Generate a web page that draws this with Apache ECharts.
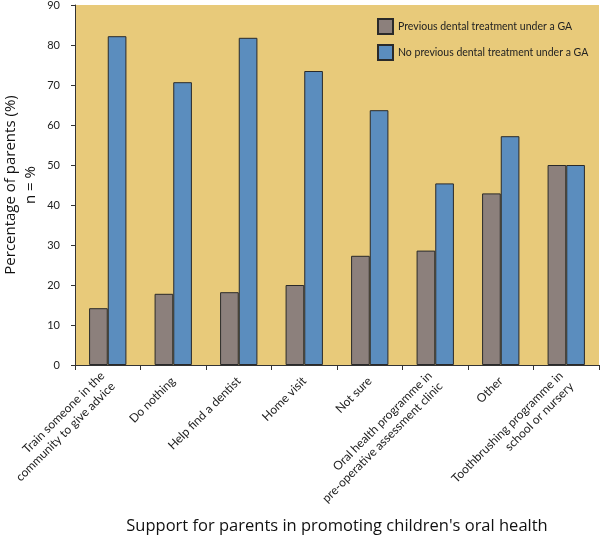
<!DOCTYPE html>
<html>
<head>
<meta charset="utf-8">
<script src="https://cdn.jsdelivr.net/npm/echarts@6/dist/echarts.min.js"></script>
<style>
html,body{margin:0;padding:0;background:#fff;}
#main{width:600px;height:536px;}
</style>
</head>
<body>
<div id="main"></div>
<script>
const categories = [
  "Train someone in the\ncommunity to give advice",
  "Do nothing",
  "Help find a dentist",
  "Home visit",
  "Not sure",
  "Oral health programme in\npre-operative assessment clinic",
  "Other",
  "Toothbrushing programme in\nschool or nursery"
];
const seriesNames = ["Previous dental treatment under a GA", "No previous dental treatment under a GA"];
const previousGA = [14.2, 17.8, 18.2, 20.0, 27.3, 28.6, 42.9, 50.0];
const noPreviousGA = [82.2, 70.7, 81.8, 73.5, 63.7, 45.4, 57.2, 50.0];
const yTicks = { min: 0, max: 90, interval: 10 };

const FONT = 'Lato';
const TITLE_FONT = '"Open Sans"';
const chart = echarts.init(document.getElementById('main'), null, { renderer: 'canvas' });
chart.setOption({
  animation: false,
  backgroundColor: '#ffffff',
  textStyle: { fontFamily: FONT, color: '#222' },
  grid: {
    left: 75, right: 1, top: 5, bottom: 171,
    containLabel: false, outerBoundsMode: 'none',
    show: true, backgroundColor: '#E8CA7A', borderWidth: 0
  },
  legend: {
    orient: 'vertical', left: 377, top: 18, padding: 0,
    icon: 'rect',
    itemWidth: 15, itemHeight: 15, itemGap: 9,
    textStyle: { fontFamily: FONT, fontSize: 10.5, color: '#222' },
    data: seriesNames
  },
  xAxis: {
    type: 'category',
    data: categories,
    axisLine: { lineStyle: { color: '#333', width: 1 } },
    axisTick: { show: true, length: 5, lineStyle: { color: '#333' } },
    axisLabel: {
      interval: 0, rotate: 45, fontSize: 12, lineHeight: 15,
      color: '#222', margin: 14, fontFamily: FONT
    },
    name: "Support for parents in promoting children's oral health",
    nameLocation: 'middle', nameGap: 153, nameMoveOverlap: false,
    nameTextStyle: { fontSize: 16.5, color: '#111', fontFamily: TITLE_FONT }
  },
  yAxis: {
    type: 'value',
    min: yTicks.min, max: yTicks.max, interval: yTicks.interval,
    splitLine: { show: false },
    axisLine: { show: true, lineStyle: { color: '#333', width: 1 } },
    axisTick: { show: true, length: 4, lineStyle: { color: '#333' } },
    axisLabel: { fontSize: 11, color: '#222', margin: 15, fontFamily: FONT },
    name: 'Percentage of parents (%)\nn = %',
    nameLocation: 'middle', nameGap: 34, nameRotate: 90, nameMoveOverlap: false,
    nameTextStyle: { fontSize: 15, lineHeight: 20, color: '#111', fontFamily: TITLE_FONT, align: 'center' }
  },
  series: [
    {
      name: seriesNames[0], type: 'bar', data: previousGA,
      barGap: '0%', barCategoryGap: '43%',
      itemStyle: { color: '#8C807C', borderColor: '#2a2a2a', borderWidth: 1 }
    },
    {
      name: seriesNames[1], type: 'bar', data: noPreviousGA,
      barGap: '0%', barCategoryGap: '43%',
      itemStyle: { color: '#5B8DBE', borderColor: '#2a2a2a', borderWidth: 1 }
    }
  ]
});
</script>
</body>
</html>
